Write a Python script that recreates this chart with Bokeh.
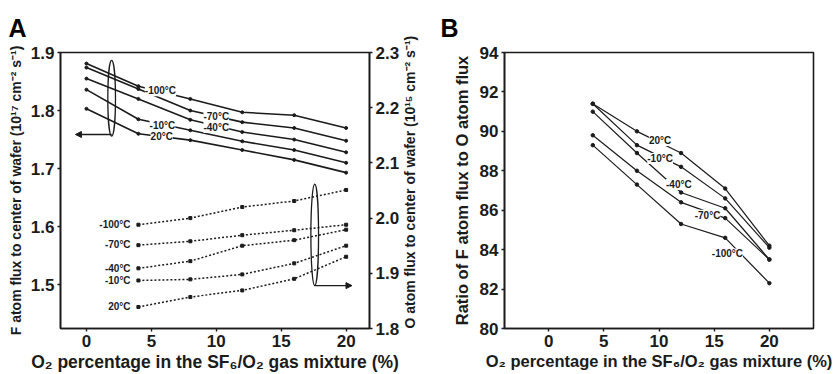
import math

from bokeh.plotting import figure
from bokeh.layouts import row
from bokeh.models import (Range1d, LinearAxis, FixedTicker, NumeralTickFormatter,
                          LabelSet, Arrow, NormalHead, ColumnDataSource)
from bokeh.core.properties import value
from bokeh.embed import file_html
from bokeh.resources import INLINE

# ---------------- data ----------------
temps = ["-100°C", "-70°C", "-40°C", "-10°C", "20°C"]

# O2 percentage in the SF6/O2 mixture
o2_f = [0, 4, 8, 12, 16, 20]
o2 = [4, 8, 12, 16, 20]

# F atom flux to wafer centre (1e17 cm^-2 s^-1), left axis of panel A
f_m100 = [1.881, 1.842, 1.820, 1.797, 1.792, 1.770]
f_m70 = [1.874, 1.837, 1.800, 1.780, 1.770, 1.748]
f_m40 = [1.855, 1.820, 1.784, 1.763, 1.750, 1.728]
f_m10 = [1.836, 1.785, 1.766, 1.747, 1.732, 1.710]
f_p20 = [1.803, 1.760, 1.749, 1.732, 1.715, 1.693]

# O atom flux to wafer centre (1e15 cm^-2 s^-1), right axis of panel A
o_m100 = [1.988, 2.000, 2.020, 2.031, 2.051]
o_m70 = [1.951, 1.958, 1.969, 1.978, 1.988]
o_m40 = [1.909, 1.922, 1.950, 1.960, 1.979]
o_m10 = [1.887, 1.889, 1.898, 1.918, 1.950]
o_p20 = [1.839, 1.857, 1.869, 1.890, 1.930]

# Ratio of F to O atom flux, panel B
r_m100 = [89.3, 87.3, 85.3, 84.6, 82.3]
r_m70 = [89.8, 88.0, 86.4, 85.6, 83.5]
r_m40 = [91.0, 88.9, 86.9, 86.1, 83.5]
r_m10 = [91.4, 89.3, 88.2, 86.6, 84.1]
r_p20 = [91.4, 90.0, 88.9, 87.1, 84.2]

x_ticks = [0, 5, 10, 15, 20]
f_ticks = [1.5, 1.6, 1.7, 1.8, 1.9]
o_ticks = [1.8, 1.9, 2.0, 2.1, 2.2, 2.3]
r_ticks = [80, 82, 84, 86, 88, 90, 92, 94]

f_series = [f_m100, f_m70, f_m40, f_m10, f_p20]
o_series = [o_m100, o_m70, o_m40, o_m10, o_p20]
r_series = [r_m100, r_m70, r_m40, r_m10, r_p20]

# ---------------- styling ----------------
FONT = "Liberation Sans"
INK = "#1b1b1b"
X_TITLE = "O₂ percentage in the SF₆/O₂ gas mixture (%)"


def style_axis(ax, label_size):
    ax.axis_line_color = INK
    ax.axis_line_width = 1.6
    ax.major_tick_line_color = INK
    ax.major_tick_line_width = 1.4
    ax.major_tick_in = 0
    ax.major_tick_out = 3
    ax.minor_tick_line_color = None
    ax.major_label_text_font = FONT
    ax.major_label_text_font_style = "bold"
    ax.major_label_text_font_size = "17px"
    ax.major_label_text_color = INK
    ax.major_label_standoff = 3
    ax.axis_label_text_font = FONT
    ax.axis_label_text_font_style = "bold"
    ax.axis_label_text_font_size = label_size
    ax.axis_label_text_color = INK


def style_frame(p, letter, letter_offset):
    p.xgrid.visible = False
    p.ygrid.visible = False
    p.outline_line_color = INK
    p.outline_line_width = 1.6
    p.background_fill_color = "white"
    p.border_fill_color = "white"
    p.title.text = letter
    p.title.text_font = FONT
    p.title.text_font_style = "bold"
    p.title.text_font_size = "25px"
    p.title.text_color = "black"
    p.title.align = "left"
    p.title.offset = letter_offset
    p.title.standoff = 22


def curve_labels(p, xs, ys, align="center", boxed=True, range_name=None):
    src = ColumnDataSource(dict(x=xs, y=ys, t=temps))
    kw = dict(y_range_name=range_name) if range_name else {}
    if boxed:
        kw.update(background_fill_color="white", background_fill_alpha=1.0)
    p.add_layout(LabelSet(x="x", y="y", text="t", source=src, text_align=align,
                          text_baseline="middle", text_font=value(FONT),
                          text_font_style="bold", text_font_size="10px",
                          text_color=INK, **kw))


# ---------------- panel A ----------------
pa = figure(width=430, height=374, output_backend="svg", toolbar_location=None,
            x_range=Range1d(-2, 21.8), y_range=Range1d(1.4245, 1.9),
            min_border_left=60, min_border_right=61, min_border_top=51,
            min_border_bottom=40)
pa.extra_y_ranges = {"o": Range1d(1.8, 2.3)}
style_frame(pa, "A", -52)

xa = pa.xaxis[0]
xa.ticker = FixedTicker(ticks=x_ticks)
style_axis(xa, "17.5px")
xa.axis_label = X_TITLE
xa.axis_label_standoff = 2

ya = pa.yaxis[0]
ya.ticker = FixedTicker(ticks=f_ticks)
ya.formatter = NumeralTickFormatter(format="0.0")
style_axis(ya, "14px")
ya.axis_label = "F atom flux to center of wafer (10¹⁷ cm⁻² s⁻¹)"
ya.axis_label_standoff = 4

ra = LinearAxis(y_range_name="o", ticker=FixedTicker(ticks=o_ticks),
                formatter=NumeralTickFormatter(format="0.0"))
style_axis(ra, "14px")
ra.axis_label = "O atom flux to center of wafer (10¹⁵ cm⁻² s⁻¹)"
ra.axis_label_standoff = 8
# read bottom to top like the left title: rotate and start it at the axis bottom
ra.axis_label_orientation = math.pi / 2
if "axis_label_align" in ra.properties():
    ra.axis_label_align = "start"
pa.add_layout(ra, "right")

# F flux: solid lines on the left axis
for ys in f_series:
    pa.line(o2_f, ys, line_color=INK, line_width=1.6)
    pa.scatter(o2_f, ys, size=3, marker="circle", color=INK)

# O flux: dotted lines on the right axis
for ys in o_series:
    pa.line(o2, ys, line_color=INK, line_width=1.5, line_dash="2 2", y_range_name="o")
    pa.scatter(o2, ys, size=3, marker="square", color=INK, y_range_name="o")

# curve labels (white boxes break the solid lines underneath)
curve_labels(pa, [5.7, 10.0, 10.0, 5.85, 5.8], [1.834, 1.790, 1.771, 1.775, 1.755])
curve_labels(pa, [3.4] * 5, [1.9885, 1.9514, 1.9090, 1.8866, 1.8394],
             align="right", boxed=False, range_name="o")

# ellipses grouping each family, with arrows pointing to their axis
pa.ellipse(x=[1.94], y=[1.8213], width=0.59, height=0.1306, fill_color=None,
           line_color=INK, line_width=1.3)
pa.ellipse(x=[17.58], y=[1.9696], width=0.59, height=0.1837, fill_color=None,
           line_color=INK, line_width=1.3, y_range_name="o")
pa.add_layout(Arrow(x_start=1.94, y_start=1.7588, x_end=-0.85, y_end=1.7588,
                    line_color=INK, line_width=1.4,
                    end=NormalHead(size=6, fill_color=INK, line_color=INK)))
pa.add_layout(Arrow(x_start=17.58, y_start=1.8777, x_end=20.45, y_end=1.8777,
                    y_range_name="o", line_color=INK, line_width=1.4,
                    end=NormalHead(size=6, fill_color=INK, line_color=INK)))

# ---------------- panel B ----------------
pb = figure(width=406, height=374, output_backend="svg", toolbar_location=None,
            x_range=Range1d(-4, 24), y_range=Range1d(80, 94),
            min_border_left=74, min_border_right=23, min_border_top=52,
            min_border_bottom=40)
style_frame(pb, "B", -64)

xb = pb.xaxis[0]
xb.ticker = FixedTicker(ticks=x_ticks)
style_axis(xb, "16.5px")
xb.axis_label = X_TITLE
xb.axis_label_standoff = 2

yb = pb.yaxis[0]
yb.ticker = FixedTicker(ticks=r_ticks)
style_axis(yb, "16.5px")
yb.axis_label = "Ratio of F atom flux to O atom flux"
yb.axis_label_standoff = 6

for ys in r_series:
    pb.line(o2, ys, line_color=INK, line_width=1.2)
    pb.scatter(o2, ys, size=3.5, marker="circle", color=INK)

curve_labels(pb, [16.2, 14.4, 11.8, 10.1, 10.1], [83.78, 85.74, 87.3, 88.62, 89.54])

layout = row(pa, pb)
open("out.html", "w").write(file_html(layout, INLINE))
